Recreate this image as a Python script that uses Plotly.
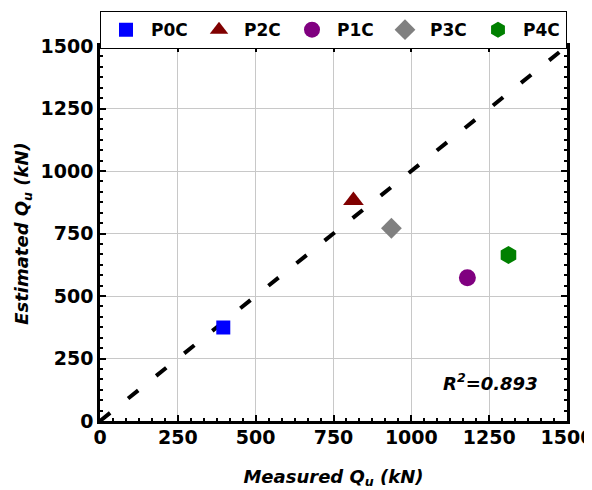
import plotly.graph_objects as go

names = ["P0C", "P2C", "P1C", "P3C", "P4C"]
measured = [396, 814, 1180, 936, 1312]
estimated = [374, 882, 573, 771, 664]
colors = ["#0000FF", "#800000", "#800080", "#808080", "#008000"]
symbols = ["square", "triangle-up", "circle", "diamond", "hexagon"]
sizes = [14, 18, 17, 16, 18]
line_pts = [0, 1500]
tick_vals = [0, 250, 500, 750, 1000, 1250, 1500]

FONT = "DejaVu Sans"

fig = go.Figure()
fig.add_trace(go.Scatter(x=line_pts, y=line_pts, mode="lines",
                         line=dict(color="black", width=4, dash="13px,23px"),
                         showlegend=False, hoverinfo="skip"))
for n, xm, ye, c, s, sz in zip(names, measured, estimated, colors, symbols, sizes):
    fig.add_trace(go.Scatter(x=[xm], y=[ye], mode="markers", name=n,
                             marker=dict(color=c, symbol=s, size=sz, line=dict(width=0))))

axis_common = dict(
    range=[0, 1500], tickvals=tick_vals, showgrid=True, gridcolor="#c8c8c8", gridwidth=1,
    zeroline=False, showline=True, linecolor="black", linewidth=2.5, mirror="ticks",
    ticks="inside", ticklen=6, tickwidth=2, tickcolor="black", automargin=False,
    ticklabeloverflow="allow",
    minor=dict(dtick=250/6, ticks="inside", ticklen=3, tickwidth=1.5, tickcolor="black", showgrid=False),
    tickfont=dict(family=FONT, size=19, color="black", weight="bold"),
)

fig.update_xaxes(**axis_common, ticklabelstandoff=-3,
                 title=dict(text="<i>Measured Q<sub>u</sub> (kN)</i>", standoff=24,
                            font=dict(family=FONT, size=18, color="black", weight="bold")))
fig.update_yaxes(**axis_common,
                 title=dict(text="<i>Estimated Q<sub>u</sub> (kN)</i>", standoff=8,
                            font=dict(family=FONT, size=18, color="black", weight="bold")))

fig.add_annotation(x=0.942, y=0.105, xref="paper", yref="paper", xanchor="right", yanchor="middle",
                   text="<i>R<sup>2</sup>=0.893</i>", showarrow=False,
                   font=dict(family=FONT, size=18, color="black", weight="bold"))

# the page body has an 8px margin, so the figure is drawn at (8, 8)
fig.update_layout(
    width=584, height=482,
    margin=dict(l=92, r=25, t=38, b=69, autoexpand=False),
    plot_bgcolor="white", paper_bgcolor="white",
    legend=dict(orientation="h", x=0, xanchor="left", y=1.093, yanchor="top",
                bordercolor="black", borderwidth=1, entrywidth=38, entrywidthmode="pixels",
                itemwidth=40, tracegroupgap=0,
                font=dict(family=FONT, size=17, color="black", weight="bold")),
)

fig.write_html("out.html")
